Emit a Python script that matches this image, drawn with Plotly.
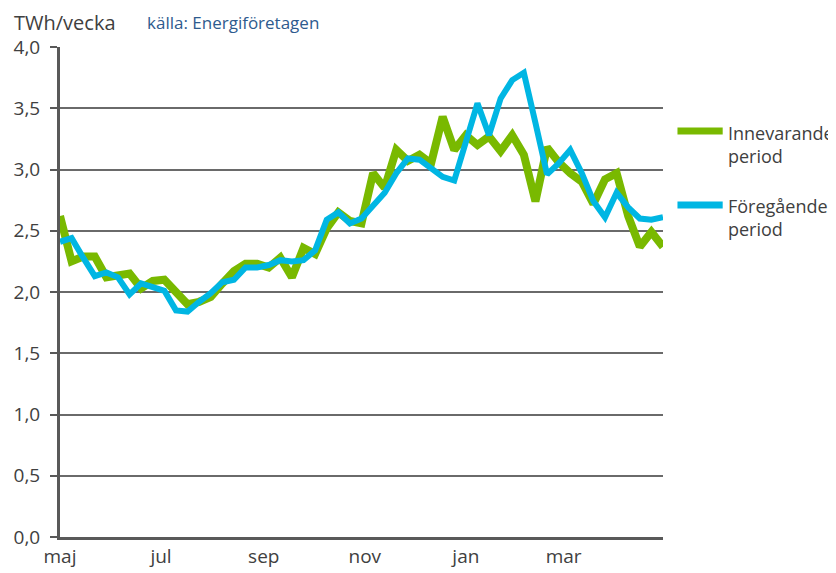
import plotly.graph_objects as go

# Weekly values, TWh/vecka (week index 0 = start of May)
innevarande = [2.62, 2.25, 2.29, 2.29, 2.12, 2.13, 2.15, 2.03, 2.09, 2.10,
               2.00, 1.90, 1.92, 1.96, 2.07, 2.17, 2.23, 2.23, 2.20, 2.28,
               2.12, 2.36, 2.31, 2.52, 2.65, 2.58, 2.56, 2.97, 2.85, 3.16,
               3.07, 3.12, 3.05, 3.43, 3.16, 3.28, 3.20, 3.27, 3.15, 3.28,
               3.12, 2.74, 3.18, 3.06, 2.97, 2.90, 2.72, 2.92, 2.97, 2.62,
               2.37, 2.49, 2.37]
foregaende = [2.41, 2.44, 2.28, 2.13, 2.16, 2.12, 1.98, 2.07, 2.04, 2.01,
              1.85, 1.84, 1.92, 1.99, 2.08, 2.10, 2.20, 2.20, 2.22, 2.26,
              2.25, 2.26, 2.34, 2.59, 2.65, 2.56, 2.60, 2.71, 2.81, 2.97,
              3.09, 3.08, 3.01, 2.94, 2.91, 3.22, 3.54, 3.28, 3.58, 3.73,
              3.79, 3.38, 2.96, 3.05, 3.16, 2.97, 2.74, 2.61, 2.81, 2.69,
              2.60, 2.59, 2.61]
weeks = list(range(len(innevarande)))

month_labels = ["maj", "jul", "sep", "nov", "jan", "mar"]
month_days = [0, 61, 123, 184, 245, 304]  # days from 1 May
month_pos = [d / 7 for d in month_days]

y_ticks = [0, 0.5, 1, 1.5, 2, 2.5, 3, 3.5, 4]

GREEN = "#79B900"
BLUE = "#00B6E3"
TXT = "#404040"
FONT = "Open Sans"

fig = go.Figure()
fig.add_trace(go.Scatter(x=weeks, y=innevarande, mode="lines", name="Innevarande period",
                         line=dict(color=GREEN, width=8), showlegend=False))
fig.add_trace(go.Scatter(x=weeks, y=foregaende, mode="lines", name="Föregående period",
                         line=dict(color=BLUE, width=6), showlegend=False))

# page has an 8px body margin, so the figure is 8px smaller and shifted
fig.update_layout(
    width=828, height=565,
    margin=dict(l=52, r=173, t=39, b=36),
    plot_bgcolor="white", paper_bgcolor="white",
    separators=", ",
    font=dict(family=FONT, color=TXT, size=19),
    xaxis=dict(range=[0, 52], tickvals=month_pos, ticktext=month_labels,
               automargin=False,
               showgrid=False, zeroline=False, showline=True, linewidth=3,
               linecolor="#595959", ticks="", tickfont=dict(size=19, color=TXT)),
    yaxis=dict(range=[0, 4], tickvals=y_ticks, tickformat=".1f",
               automargin=False, ticklabelstandoff=6,
               showgrid=True, gridcolor="#6a6a6a", gridwidth=2,
               zeroline=False, showline=True, linewidth=3, linecolor="#595959",
               ticks="outside", ticklen=7, tickwidth=2, tickcolor="#595959",
               tickfont=dict(size=19, color=TXT)),
)

# Manual legend
fig.add_shape(type="line", xref="paper", yref="paper", x0=1.024, x1=1.099,
              y0=0.8286, y1=0.8286, line=dict(color=GREEN, width=7))
fig.add_shape(type="line", xref="paper", yref="paper", x0=1.024, x1=1.099,
              y0=0.6776, y1=0.6776, line=dict(color=BLUE, width=7))
fig.add_annotation(xref="paper", yref="paper", x=1.105, y=0.80, xanchor="left",
                   yanchor="middle", align="left", showarrow=False,
                   text="Innevarande<br>period", font=dict(size=18, color=TXT))
fig.add_annotation(xref="paper", yref="paper", x=1.105, y=0.653, xanchor="left",
                   yanchor="middle", align="left", showarrow=False,
                   text="Föregående<br>period", font=dict(size=18, color=TXT))

fig.add_annotation(xref="paper", yref="paper", x=-0.079, y=1.049, xanchor="left",
                   yanchor="middle", showarrow=False, text="TWh/vecka",
                   font=dict(size=20, color=TXT))
fig.add_annotation(xref="paper", yref="paper", x=0.141, y=1.049, xanchor="left",
                   yanchor="middle", showarrow=False, text="källa: Energiföretagen",
                   font=dict(size=17, color="#2E5B8E"))

fig.write_html("out.html")
